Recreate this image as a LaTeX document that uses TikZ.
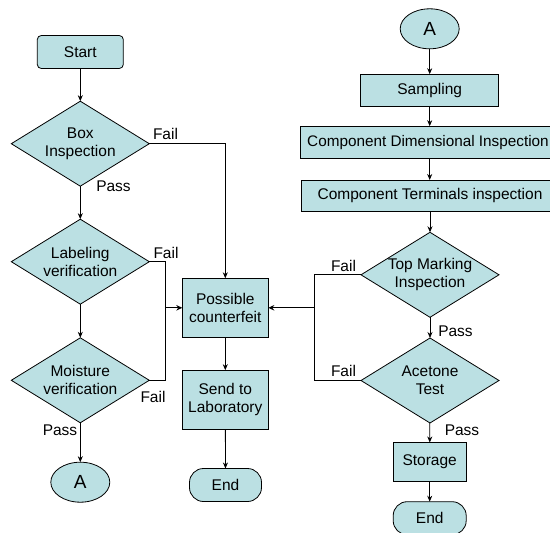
\documentclass[tikz,border=0pt]{standalone}
\usepackage{fontspec}
\setmainfont{Liberation Sans}
\usetikzlibrary{shapes.geometric,arrows.meta}
\definecolor{boxfill}{HTML}{BBE0E3}
\begin{document}
\begin{tikzpicture}[x=1pt,y=-1pt,
  font=\fontsize{15.5}{17.7}\selectfont,
  every node/.style={inner sep=0pt,outer sep=0pt},
  base/.style={draw=black,line width=0.8pt,fill=boxfill,align=center},
  procbox/.style={base,rectangle},
  startbox/.style={base,rectangle,rounded corners=4pt,minimum width=86pt,minimum height=33pt},
  endbox/.style={base,rectangle,rounded corners=14pt,minimum width=72pt,minimum height=33pt},
  conn/.style={base,ellipse,minimum width=59pt,minimum height=40pt,font=\fontsize{19}{20}\selectfont},
  decision/.style={base,diamond,minimum width=138pt,minimum height=85pt},
  dtext/.style={align=center},
  flow/.style={line width=0.8pt,draw=black},
  arr/.style={flow,-{Stealth[length=6pt,width=5pt]}},
  branch/.style={line width=1.3pt,-{Stealth[length=6pt,width=5.5pt]}},
  tag/.style={anchor=center}
]
\useasboundingbox (0,0) rectangle (550,533);
\clip (0,0) rectangle (550,533);

% left column: incoming goods checks
\node[startbox] (start) at (80.3,52) {Start};
\node[decision,label={[dtext]center:Box\\Inspection}] (box) at (80.3,143.7) {};
\node[decision,label={[dtext]center:Labeling\\verification}] (lab) at (80.3,261.7) {};
\node[decision,label={[dtext]center:Moisture\\verification}] (moi) at (80.3,380.3) {};
\node[conn] (aout) at (80.3,482.2) {A};

% middle column: rejected parts
\node[procbox,minimum width=86pt,minimum height=59pt] (pc) at (225.3,307.8) {Possible\\counterfeit};
\node[procbox,minimum width=86pt,minimum height=59pt] (lab2) at (225.3,399.7) {Send to\\Laboratory};
\node[endbox] (end1) at (225.5,485) {End};

% right column: component checks
\node[conn] (ain) at (429.7,28.8) {A};
\node[procbox,minimum width=138pt,minimum height=32pt] (samp) at (429.7,90.2) {Sampling};
\node[procbox,minimum width=256pt,minimum height=32pt,font=\fontsize{15.3}{17.7}\selectfont] (cdi) at (428,142.2) {Component Dimensional Inspection};
\node[procbox,minimum width=258pt,minimum height=31pt] (cti) at (430,195.5) {Component Terminals inspection};
\node[decision,label={[dtext]center:Top Marking\\Inspection}] (tm) at (430,274.8) {};
\node[decision,label={[dtext]center:Acetone\\Test}] (ac) at (430,380.5) {};
\node[procbox,minimum width=73pt,minimum height=39pt] (stor) at (429.7,462) {Storage};
\node[endbox,minimum width=73pt] (end2) at (429.7,518.2) {End};

% junction columns for the fail paths
\coordinate (jl) at (165.7,0);
\coordinate (jr) at (314.3,0);

% left column flow
\draw[arr] (start) -- (box);
\draw[arr] (box) -- (lab);
\draw[arr] (lab) -- (moi);
\draw[arr] (moi) -- (aout);
\draw[arr] (box.east) -| (pc.north);
\draw[flow] (lab.east) -- (jl |- lab.east) -- (jl |- moi.east) -- (moi.east);
\draw[branch] (jl |- pc.west) -- (pc.west);

% middle column flow
\draw[arr] (pc) -- (lab2);
\draw[arr] (lab2) -- (end1);

% right column flow
\draw[arr] (ain) -- (samp);
\draw[arr] (samp) -- (cdi.north -| samp.south);
\draw[arr] (cdi.south -| samp.south) -- (cti.north -| samp.south);
\draw[arr] (cti.south -| tm.north) -- (tm.north);
\draw[arr] (tm) -- (ac);
\draw[arr] (ac) -- (stor);
\draw[arr] (stor) -- (end2);
\draw[flow] (tm.west) -- (jr |- tm.west) -- (jr |- ac.west) -- (ac.west);
\draw[branch] (jr |- pc.east) -- (pc.east);

% branch labels
\node[tag] (f1) at (165.5,134) {Fail};
\node[tag] (p1) at (113.5,186.5) {Pass};
\node[tag] (f2) at (166,252.5) {Fail};
\node[tag] (f3) at (153,396.5) {Fail};
\node[tag] (p3) at (60,430) {Pass};
\node[tag] (f4) at (343.5,266) {Fail};
\node[tag] (p4) at (455.5,331) {Pass};
\node[tag] (f5) at (343.5,371) {Fail};
\node[tag] (p5) at (462,430) {Pass};
\end{tikzpicture}
\end{document}
